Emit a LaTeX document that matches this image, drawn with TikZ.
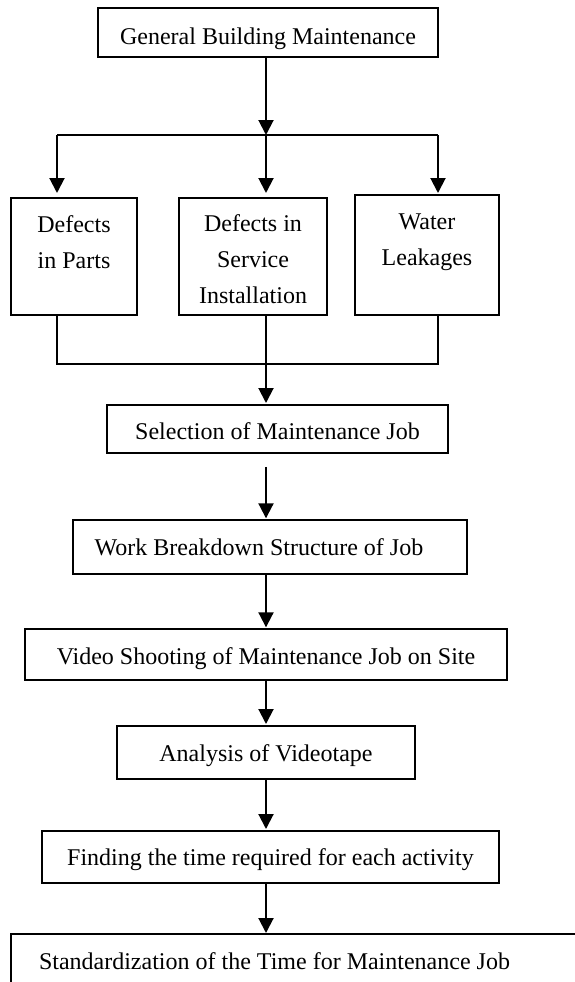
\documentclass[tikz,border=0pt]{standalone}
\usepackage{fontspec}
\setmainfont{Liberation Serif}
\usetikzlibrary{arrows.meta,calc}

\begin{document}
\begin{tikzpicture}[
  x={(1pt,0pt)}, y={(0pt,-1pt)},
  font=\fontsize{24}{36}\selectfont,
  box/.style={draw, line width=1.8pt, inner sep=0pt, anchor=north, align=center},
  flow/.style={line width=2pt, -{Triangle[width=15pt,length=15pt]}},
  link/.style={line width=2pt},
  thin link/.style={line width=1.2pt},
]
\useasboundingbox (0,0) rectangle (574,982);

% blocks (text height/depth are measured from the last line's baseline)
\node[box, minimum width=340pt, text height=36.3pt, text depth=12.7pt] (gbm) at (268,7)
  {General Building Maintenance};

\node[box, minimum width=126pt, text height=71pt, text depth=46pt] (parts) at (74,197)
  {Defects\\in Parts};
\node[box, minimum width=148pt, text height=106pt, text depth=11pt] (service) at (253,197)
  {Defects in\\Service\\Installation};
\node[box, minimum width=144pt, text height=71pt, text depth=49pt] (water) at (427,194)
  {Water\\Leakages};

\node[box, minimum width=341pt, text height=34.3pt, text depth=13.7pt] (select) at (277.5,404)
  {Selection of Maintenance Job};
\node[box, minimum width=394pt, text height=35.7pt, text depth=17.7pt] (wbs) at (270,519.3)
  {Work Breakdown Structure of Job\hspace*{22pt}};
\node[box, minimum width=482pt, text height=35pt, text depth=16pt] (video) at (266,628.3)
  {Video Shooting of Maintenance Job on Site};
\node[box, minimum width=298pt, text height=35.7pt, text depth=17.6pt] (tape) at (266,725)
  {Analysis of Videotape};
\node[box, minimum width=457pt, text height=35pt, text depth=16.7pt] (timing) at (270.5,830)
  {Finding the time required for each activity};
\node[box, minimum width=589pt, text height=36pt, text depth=40pt] (standard) at (305.5,933)
  {Standardization of the Time for Maintenance Job\hspace*{62pt}};

% split into the three defect groups
\coordinate (split) at (266,135);
\coordinate (splitL) at (57,135);
\coordinate (splitR) at (438,135);
\draw[flow] (gbm.south -| split) -- (split);
\draw[link] (splitL) -- (splitR);
\draw[flow, shorten >=4pt] (splitL) -- (splitL |- parts.north);
\draw[flow, shorten >=4pt] (split) -- (split |- service.north);
\draw[flow, shorten >=1pt] (splitR) -- (splitR |- water.north);

% merge back into one job
\coordinate (join) at (266,364);
\coordinate (joinL) at (57,364);
\coordinate (joinR) at (438,364);
\draw[thin link] (joinL |- parts.south) -- (joinL) -- (joinR) -- (joinR |- water.south);
\draw[thin link] (join |- service.south) -- (join);
\draw[flow, shorten >=1pt] (join) -- (join |- select.north);

% main sequence
\draw[flow, shorten <=13pt, shorten >=1pt] (join |- select.south) -- (join |- wbs.north);
\draw[flow, shorten >=1pt] (join |- wbs.south) -- (join |- video.north);
\draw[flow, shorten >=1pt] (join |- video.south) -- (join |- tape.north);
\draw[flow, shorten >=1pt] (join |- tape.south) -- (join |- timing.north);
\draw[flow] (join |- timing.south) -- (join |- standard.north);
\end{tikzpicture}
\end{document}
